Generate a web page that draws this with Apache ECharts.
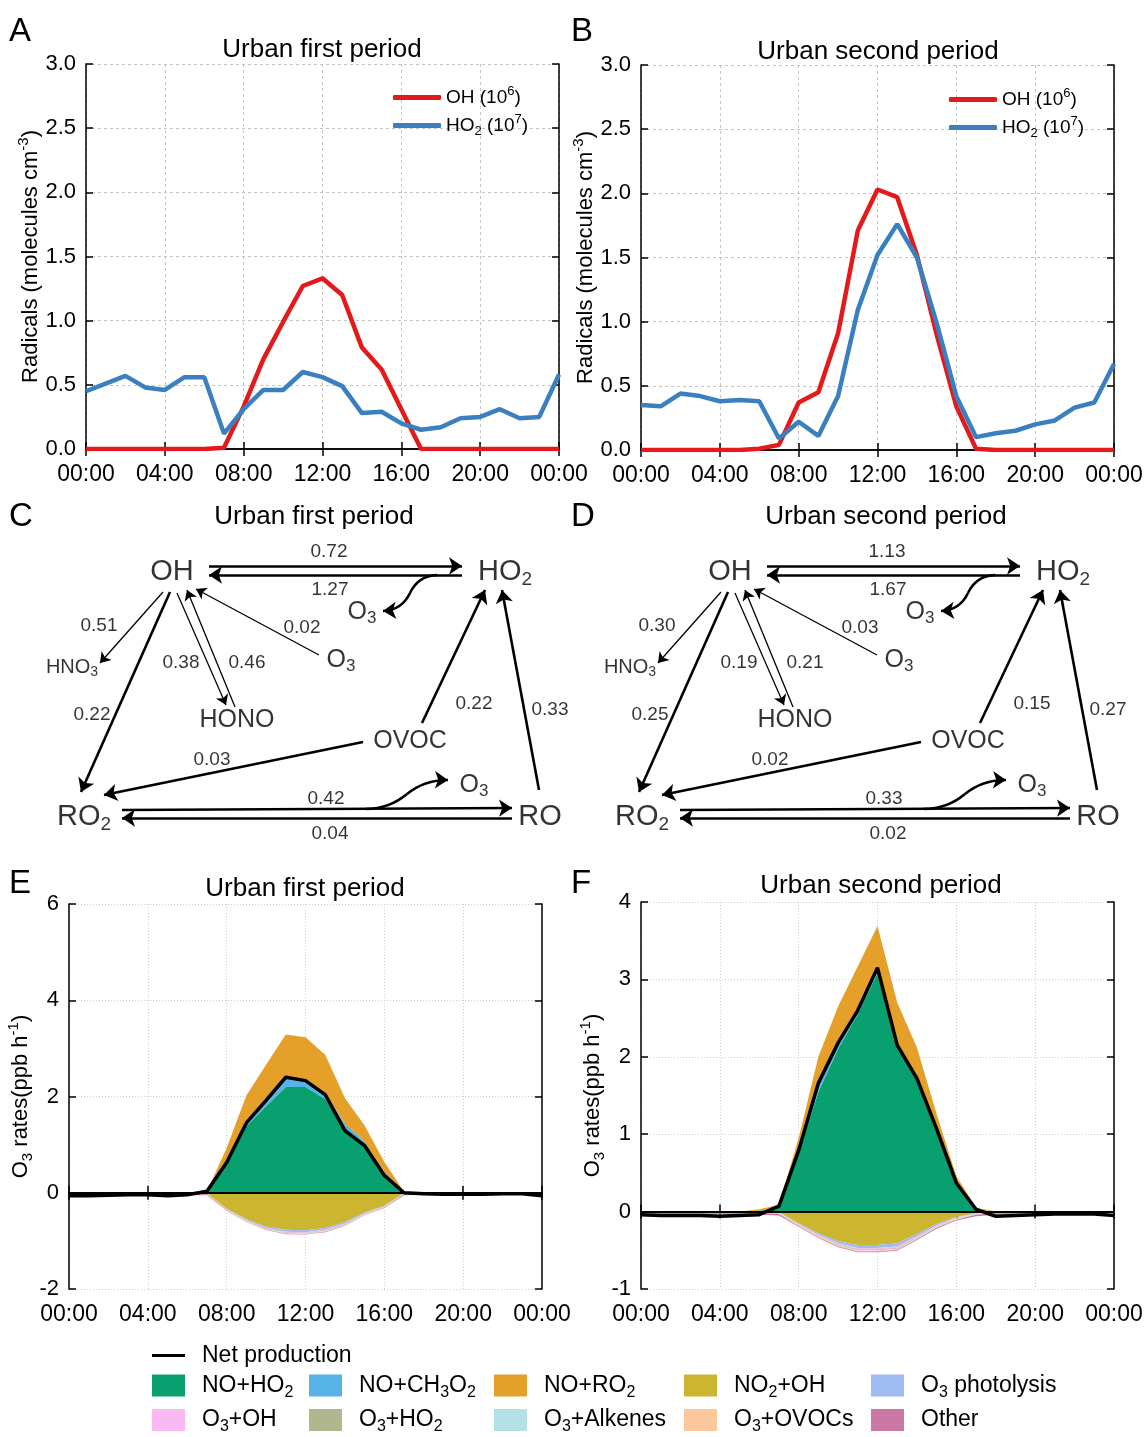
<!DOCTYPE html>
<html>
<head>
<meta charset="utf-8">
<script src="https://cdn.jsdelivr.net/npm/echarts@6/dist/echarts.min.js"></script>
<style>
html,body{margin:0;padding:0;background:#ffffff;}
#chart{width:1146px;height:1437px;}
</style>
</head>
<body>
<div id="chart"></div>
<script>
// ================= DATA =================
const hours = [0,1,2,3,4,5,6,7,8,9,10,11,12,13,14,15,16,17,18,19,20,21,22,23,24];
const xTickLabels = ['00:00','04:00','08:00','12:00','16:00','20:00','00:00'];

// Panels A / B : radicals (OH in 1e6, HO2 in 1e7 molecules cm-3)
const ohFirst   = [0,0,0,0,0,0,0,0.01,0.33,0.70,0.99,1.27,1.33,1.20,0.79,0.62,0.31,0,0,0,0,0,0,0,0];
const ho2First  = [0.45,0.51,0.57,0.48,0.46,0.56,0.56,0.12,0.31,0.46,0.46,0.60,0.56,0.49,0.28,0.29,0.20,0.15,0.17,0.24,0.25,0.31,0.24,0.25,0.58];
const ohSecond  = [0,0,0,0,0,0,0.01,0.04,0.37,0.45,0.91,1.71,2.03,1.97,1.52,0.90,0.34,0.01,0,0,0,0,0,0,0];
const ho2Second = [0.35,0.34,0.44,0.42,0.38,0.39,0.38,0.09,0.22,0.11,0.42,1.09,1.52,1.76,1.50,0.99,0.42,0.10,0.13,0.15,0.20,0.23,0.33,0.37,0.67];

// Panels C / D : radical cycling rates (ppb h-1)
const cycleSpecies = ['OH','HO_{2}','RO_{2}','RO','OVOC','HONO','HNO_{3}','O_{3}','O_{3}','O_{3}'];
const pathways     = ['OH→HO2','HO2→OH','OH→HNO3','OH→RO2','OH→HONO','HONO→OH','O3→OH','OVOC→HO2','RO→HO2','OVOC→RO2','RO2→RO','RO→RO2'];
const ratesFirst   = [0.72,1.27,0.51,0.22,0.38,0.46,0.02,0.22,0.33,0.03,0.42,0.04];
const ratesSecond  = [1.13,1.67,0.30,0.25,0.19,0.21,0.03,0.15,0.27,0.02,0.33,0.02];

// Panels E / F : O3 budget (ppb h-1)
const netFirst      = [-0.06,-0.06,-0.05,-0.04,-0.04,-0.06,-0.04,0.03,0.63,1.45,1.92,2.40,2.33,2.04,1.29,0.98,0.36,0.00,-0.02,-0.03,-0.03,-0.03,-0.02,-0.02,-0.06];
const noHo2First    = [0,0,0,0,0,0,0,0.01,0.58,1.38,1.80,2.20,2.20,1.95,1.32,0.98,0.40,0.01,0,0,0,0,0,0,0];
const noCh3o2First  = [0,0,0,0,0,0,0,0,0.03,0.07,0.12,0.18,0.16,0.13,0.12,0.08,0.03,0,0,0,0,0,0,0,0];
const noRo2First    = [0,0,0,0,0,0,0,0.02,0.32,0.57,0.74,0.91,0.87,0.79,0.53,0.34,0.21,0.01,0,0,0,0,0,0,0];
const no2OhFirst    = [0,0,0,0,0,0,0,-0.01,-0.33,-0.55,-0.70,-0.77,-0.78,-0.73,-0.61,-0.41,-0.27,-0.01,0,0,0,0,0,0,0];
const o3PhotFirst   = [0,0,0,0,0,0,0,0,-0.01,-0.02,-0.03,-0.04,-0.04,-0.04,-0.03,-0.02,-0.01,0,0,0,0,0,0,0,0];
const o3OhFirst     = [0,0,0,0,0,0,0,0,-0.005,-0.01,-0.01,-0.015,-0.015,-0.015,-0.01,-0.01,-0.005,0,0,0,0,0,0,0,0];
const o3Ho2First    = [0,0,0,0,0,0,0,0,-0.005,-0.005,-0.01,-0.01,-0.01,-0.01,-0.01,-0.005,-0.005,0,0,0,0,0,0,0,0];
const o3AlkFirst    = [-0.01,-0.01,-0.01,-0.01,-0.01,-0.01,-0.01,-0.01,-0.005,-0.005,-0.005,-0.005,-0.005,-0.005,-0.005,-0.005,-0.005,-0.01,-0.01,-0.01,-0.01,-0.01,-0.01,-0.01,-0.01];
const o3OvocFirst   = [-0.01,-0.01,-0.01,-0.01,-0.01,-0.01,-0.01,-0.01,-0.01,-0.01,-0.01,-0.01,-0.01,-0.01,-0.01,-0.01,-0.01,-0.01,-0.01,-0.01,-0.01,-0.01,-0.01,-0.01,-0.01];
const otherFirst    = [-0.03,-0.03,-0.03,-0.03,-0.03,-0.03,-0.03,-0.02,-0.01,-0.01,-0.01,-0.01,-0.01,-0.01,-0.01,-0.01,-0.01,-0.02,-0.02,-0.02,-0.02,-0.02,-0.02,-0.02,-0.03];

const netSecond     = [-0.04,-0.05,-0.05,-0.05,-0.06,-0.05,-0.04,0.07,0.79,1.66,2.18,2.60,3.15,2.15,1.72,1.07,0.37,0.03,-0.06,-0.05,-0.04,-0.03,-0.03,-0.03,-0.05];
const noHo2Second   = [0,0,0,0,0,0,0.01,0.05,0.75,1.55,2.10,2.55,3.08,2.12,1.70,1.03,0.36,0.02,0,0,0,0,0,0,0];
const noCh3o2Second = [0,0,0,0,0,0,0,0,0.03,0.06,0.06,0.05,0.05,0.04,0.03,0.02,0.01,0,0,0,0,0,0,0,0];
const noRo2Second   = [0,0,0,0,0,0,0.02,0.04,0.17,0.39,0.49,0.57,0.56,0.54,0.39,0.21,0.09,0.03,0,0,0,0,0,0,0];
const no2OhSecond   = [0,0,0,0,0,0,0,-0.01,-0.15,-0.28,-0.38,-0.43,-0.43,-0.41,-0.29,-0.16,-0.07,-0.02,0,0,0,0,0,0,0];
const o3PhotSecond  = [0,0,0,0,0,0,0,0,-0.01,-0.02,-0.03,-0.04,-0.04,-0.04,-0.03,-0.02,-0.01,0,0,0,0,0,0,0,0];
const o3OhSecond    = [0,0,0,0,0,0,0,0,-0.005,-0.01,-0.015,-0.02,-0.02,-0.02,-0.015,-0.01,-0.005,0,0,0,0,0,0,0,0];
const o3Ho2Second   = [0,0,0,0,0,0,0,0,-0.005,-0.005,-0.01,-0.01,-0.01,-0.01,-0.01,-0.005,-0.005,0,0,0,0,0,0,0,0];
const o3AlkSecond   = [-0.01,-0.01,-0.01,-0.01,-0.01,-0.01,-0.01,-0.01,-0.005,-0.005,-0.005,-0.005,-0.005,-0.005,-0.005,-0.005,-0.005,-0.01,-0.01,-0.01,-0.01,-0.01,-0.01,-0.01,-0.01];
const o3OvocSecond  = [-0.01,-0.01,-0.01,-0.01,-0.01,-0.01,-0.01,-0.01,-0.01,-0.01,-0.01,-0.01,-0.01,-0.01,-0.01,-0.01,-0.01,-0.01,-0.01,-0.01,-0.01,-0.01,-0.01,-0.01,-0.01];
const otherSecond   = [-0.02,-0.02,-0.02,-0.02,-0.02,-0.02,-0.02,-0.02,-0.01,-0.01,-0.01,-0.01,-0.01,-0.01,-0.01,-0.01,-0.01,-0.02,-0.02,-0.02,-0.02,-0.02,-0.02,-0.02,-0.02];

const budgetNames = ['NO+HO2','NO+CH3O2','NO+RO2','NO2+OH','O3 photolysis','O3+OH','O3+HO2','O3+Alkenes','O3+OVOCs','Other'];
const budgetLabels = ['NO+HO_{2}','NO+CH_{3}O_{2}','NO+RO_{2}','NO_{2}+OH','O_{3} photolysis','O_{3}+OH','O_{3}+HO_{2}','O_{3}+Alkenes','O_{3}+OVOCs','Other'];
const budgetFirst  = [noHo2First,noCh3o2First,noRo2First,no2OhFirst,o3PhotFirst,o3OhFirst,o3Ho2First,o3AlkFirst,o3OvocFirst,otherFirst];
const budgetSecond = [noHo2Second,noCh3o2Second,noRo2Second,no2OhSecond,o3PhotSecond,o3OhSecond,o3Ho2Second,o3AlkSecond,o3OvocSecond,otherSecond];

// ================= STYLE / LAYOUT =================
const FONT = 'Liberation Sans, Arial, Helvetica, sans-serif';
const budgetColors = ['#07a06e','#57b3e6','#e4a028','#ccb630','#9fbcf2','#fbb9f4','#b0b78e','#b3e1e8','#fcc79a','#cb77a4'];
const OH_COLOR = '#e3191c', HO2_COLOR = '#3a80c0';

// diagram layout (local pixel units inside a diagram box)
const nodeLayout = [
  {pos:[172,82], st:'n'}, {pos:[505,82], st:'n'}, {pos:[84,327], st:'n'}, {pos:[540,327], st:'n'},
  {pos:[410,251], st:'m'}, {pos:[237,230], st:'m'}, {pos:[72,177], st:'s'},
  {pos:[341,170], st:'m'}, {pos:[362,122], st:'m'}, {pos:[474,295], st:'m'}
];
const edgeLayout = [
  {from:[209,76],  to:[462,76],  thick:true,  label:[329,62]},
  {from:[462,85],  to:[209,85],  thick:true,  label:[330,100]},
  {from:[163,102], to:[100,173], thick:false, label:[99,136]},
  {from:[170,102], to:[81,302],  thick:true,  label:[92,225]},
  {from:[177,103], to:[226,215], thick:false, label:[181,173]},
  {from:[235,217], to:[187,100], thick:false, label:[247,173]},
  {from:[319,165], to:[196,99],  thick:false, label:[302,138]},
  {from:[422,233], to:[485,100], thick:true,  label:[474,214]},
  {from:[539,300], to:[502,100], thick:true,  label:[550,220]},
  {from:[363,252], to:[104,305], thick:true,  label:[212,270]},
  {from:[122,320], to:[512,318], thick:true,  label:[326,309]},
  {from:[512,328], to:[122,328], thick:true,  label:[330,344]}
];
const curveLayout = [
  {a:[437,85],  m:[410,103], b:[383,121], c:-0.3},
  {a:[366,319], m:[407,304], b:[448,290], c:-0.18}
];

// markup -> rich text
function mk(s, b) {
  return s.replace(/_\{([^}]*)\}|\^\{([^}]*)\}|([^_^]+)/g, function (m, sub, sup, t) {
    if (sub !== undefined) return '{' + b + 's|' + sub + '}';
    if (sup !== undefined) return '{' + b + 'p|' + sup + '}';
    return '{' + b + '|' + t + '}';
  });
}
function rs(b, size, subSize, shift, lh) {
  const o = {};
  o[b] = {fontSize: size, color: '#000', fontFamily: FONT};
  o[b + 's'] = {fontSize: subSize, color: '#000', fontFamily: FONT, padding: [shift * 2, 0, 0, 0]};
  o[b + 'p'] = {fontSize: subSize, color: '#000', fontFamily: FONT, padding: [0, 0, shift * 2, 0]};
  if (lh) { o[b].lineHeight = lh; }
  return o;
}

const grids = [
  {left:86,  top:64, width:473, height:385},  // A
  {left:641, top:65, width:473, height:385},  // B
  {left:0,   top:490, width:580, height:360}, // C
  {left:558, top:490, width:580, height:360}, // D
  {left:69,  top:904, width:473, height:385}, // E
  {left:641, top:902, width:473, height:387}  // F
].map(g => Object.assign({show:false, containLabel:false, outerBoundsMode:'none'}, g));

const xAxes = [], yAxes = [];
const axisLineStyle = {show:true, lineStyle:{color:'#000', width:1.5}};
const tickStyle = {show:true, inside:true, length:7, interval:3, lineStyle:{color:'#000', width:1.5}};
const yTickStyle = {show:true, inside:true, length:7, lineStyle:{color:'#000', width:1.5}};
const dashSplit = {show:true, lineStyle:{color:'#c4c4c4', width:1, type:[3,3]}};
const dotSplit = {show:true, lineStyle:{color:'#cfcfcf', width:1, type:[1,2]}};

function boxAxes(gi, ymin, ymax, yint, yfmt, yname, yGap, split) {
  const xb = xAxes.length;
  xAxes.push({gridIndex:gi, type:'category', data:hours, boundaryGap:false, position:'bottom',
    axisLine:axisLineStyle, axisTick:tickStyle,
    splitLine:Object.assign({interval:3}, split),
    axisLabel:{show:true, interval:3, color:'#000', fontSize:23, fontFamily:FONT, margin:14,
      formatter: v => xTickLabels[Math.round(Number(v) / 4)]}});
  xAxes.push({gridIndex:gi, type:'category', data:hours, boundaryGap:false, position:'top',
    axisLine:axisLineStyle, axisTick:tickStyle, splitLine:{show:false}, axisLabel:{show:false}});
  const yb = yAxes.length;
  yAxes.push({gridIndex:gi, type:'value', min:ymin, max:ymax, interval:yint, position:'left',
    axisLine:axisLineStyle, axisTick:yTickStyle, splitLine:split,
    axisLabel:{show:true, color:'#000', fontSize:22, fontFamily:FONT, margin:10, formatter:yfmt},
    name:yname, nameLocation:'middle', nameGap:yGap,
    nameTextStyle:{rich:Object.assign({}, rs('y', 22, 15, 7))}});
  yAxes.push({gridIndex:gi, type:'value', min:ymin, max:ymax, interval:yint, position:'right',
    axisLine:axisLineStyle, axisTick:yTickStyle, splitLine:{show:false}, axisLabel:{show:false}});
  return {x:xb, y:yb};
}

const radName = mk('Radicals (molecules cm^{-3})', 'y');
const o3Name = mk('O_{3} rates(ppb h^{-1})', 'y');
const axA = boxAxes(0, 0, 3, 0.5, v => v.toFixed(1), radName, 40, dashSplit);
const axB = boxAxes(1, 0, 3, 0.5, v => v.toFixed(1), radName, 38, dashSplit);
// diagram axes (hidden, 1 unit = 1 px)
const axC = {x:xAxes.length, y:yAxes.length};
xAxes.push({gridIndex:2, type:'value', min:0, max:580, show:false});
yAxes.push({gridIndex:2, type:'value', min:0, max:360, inverse:true, show:false});
const axD = {x:xAxes.length, y:yAxes.length};
xAxes.push({gridIndex:3, type:'value', min:0, max:580, show:false});
yAxes.push({gridIndex:3, type:'value', min:0, max:360, inverse:true, show:false});
const axE = boxAxes(4, -2, 6, 2, v => String(v), o3Name, 32, dotSplit);
const axF = boxAxes(5, -1, 4, 1, v => String(v), o3Name, 29, dotSplit);

const series = [];
function radicalSeries(ax, oh, ho2) {
  series.push({name:'OH', type:'line', xAxisIndex:ax.x, yAxisIndex:ax.y, data:oh, symbol:'none',
    lineStyle:{color:OH_COLOR, width:4.5}, itemStyle:{color:OH_COLOR}, color:OH_COLOR, z:3});
  series.push({name:'HO2', type:'line', xAxisIndex:ax.x, yAxisIndex:ax.y, data:ho2, symbol:'none',
    lineStyle:{color:HO2_COLOR, width:4.5}, itemStyle:{color:HO2_COLOR}, color:HO2_COLOR, z:4});
}
radicalSeries(axA, ohFirst, ho2First);
radicalSeries(axB, ohSecond, ho2Second);

function diagramSeries(ax, rates) {
  const common = {coordinateSystem:'cartesian2d', xAxisIndex:ax.x, yAxisIndex:ax.y, silent:true, animation:false};
  series.push(Object.assign({type:'lines', symbol:['none','arrow'], symbolSize:13, z:3,
    lineStyle:{color:'#000', width:2.6, opacity:1},
    data: edgeLayout.filter(e => e.thick).map(e => ({coords:[e.from, e.to]}))}, common));
  series.push(Object.assign({type:'lines', symbol:['none','arrow'], symbolSize:10, z:3,
    lineStyle:{color:'#000', width:1.3, opacity:1},
    data: edgeLayout.filter(e => !e.thick).map(e => ({coords:[e.from, e.to]}))}, common));
  series.push(Object.assign({type:'lines', symbol:['none','none'], z:3,
    lineStyle:{color:'#000', width:2.6, opacity:1},
    data: curveLayout.map(c => ({coords:[c.a, c.m], lineStyle:{curveness:c.c}}))}, common));
  series.push(Object.assign({type:'lines', symbol:['none','arrow'], symbolSize:13, z:3,
    lineStyle:{color:'#000', width:2.6, opacity:1},
    data: curveLayout.map(c => ({coords:[c.m, c.b], lineStyle:{curveness:-c.c}}))}, common));
  // species labels
  series.push({type:'scatter', xAxisIndex:ax.x, yAxisIndex:ax.y, silent:true, symbolSize:1, z:5,
    itemStyle:{color:'rgba(0,0,0,0)'},
    label:{show:true, position:'inside', formatter: p => p.data.txt,
      rich:Object.assign({}, rs('n', 29, 19, 8), rs('m', 25, 17, 6.5), rs('s', 20, 14, 5))},
    data: cycleSpecies.map((s, i) => ({value: nodeLayout[i].pos, txt: mk(s, nodeLayout[i].st)}))});
  // rate labels
  series.push({type:'scatter', xAxisIndex:ax.x, yAxisIndex:ax.y, silent:true, symbolSize:1, z:5,
    itemStyle:{color:'rgba(0,0,0,0)'},
    label:{show:true, position:'inside', formatter:'{b}', color:'#000', fontSize:19, fontFamily:FONT},
    data: rates.map((r, i) => ({name: r.toFixed(2), value: edgeLayout[i].label}))});
}
diagramSeries(axC, ratesFirst);
diagramSeries(axD, ratesSecond);

function budgetSeries(ax, comps, net, tag) {
  comps.forEach((arr, i) => {
    const c = budgetColors[i];
    series.push({name:budgetNames[i], type:'line', xAxisIndex:ax.x, yAxisIndex:ax.y,
      stack: (i < 3 ? 'pos' : 'neg') + tag,
      data:arr, symbol:'none', color:c, itemStyle:{color:c},
      lineStyle:{width:0, color:c}, areaStyle:{color:c, opacity:1}, z:2});
  });
  series.push({name:'Net production', type:'line', xAxisIndex:ax.x, yAxisIndex:ax.y,
    data:net, symbol:'none', color:'#000', itemStyle:{color:'#000'},
    lineStyle:{color:'#000', width:3.5}, z:6,
    markLine:{silent:true, symbol:['none','none'], label:{show:false},
      lineStyle:{color:'#000', width:2, type:'solid'}, data:[{yAxis:0}]}});
}
budgetSeries(axE, budgetFirst, netFirst, 'E');
budgetSeries(axF, budgetSecond, netSecond, 'F');

// ---------- titles ----------
const letter = (t, l, tp) => ({text:t, left:l, top:tp, padding:0,
  textStyle:{fontSize:33, fontWeight:'normal', color:'#000', fontFamily:FONT}});
const ptitle = (t, cx, tp) => ({text:t, left:cx, top:tp, padding:0, textAlign:'center',
  textStyle:{fontSize:26, fontWeight:'normal', color:'#000', fontFamily:FONT}});
const titles = [
  letter('A', 9, 15), letter('B', 571, 15), letter('C', 9, 500), letter('D', 571, 500),
  letter('E', 9, 867), letter('F', 571, 867),
  ptitle('Urban first period', 322, 37), ptitle('Urban second period', 878, 39),
  ptitle('Urban first period', 314, 504), ptitle('Urban second period', 886, 504),
  ptitle('Urban first period', 305, 876), ptitle('Urban second period', 881, 873)
];

// ---------- legends ----------
const radLegendText = {OH:'OH (10^{6})', HO2:'HO_{2} (10^{7})'};
const radLegend = (l, t) => ({data:['OH','HO2'], left:l, top:t, orient:'vertical', padding:0,
  icon:'roundRect', itemWidth:48, itemHeight:5, itemGap:6, selectedMode:false,
  formatter: n => mk(radLegendText[n], 'a'),
  textStyle:{rich:rs('a', 19, 13, 6, 20)}});
const bLegendText = {};
budgetNames.forEach((n, i) => { bLegendText[n] = budgetLabels[i]; });
bLegendText['Net production'] = 'Net production';
const bRich = Object.assign({g:{width:12}}, rs('t', 23, 16, 7, 26));
const bLegend = (names, l, t, extra) => Object.assign({data:names, left:l, top:t, orient:'vertical', padding:0,
  itemWidth:33, itemHeight:22, itemGap:8, icon:'rect', selectedMode:false,
  formatter: n => '{g| }' + mk(bLegendText[n], 't'),
  textStyle:{rich:bRich}}, extra || {});
const legends = [
  radLegend(393, 85), radLegend(949, 87),
  bLegend(['Net production'], 152, 1344, {itemHeight:3}),
  bLegend(['NO+HO2','O3+OH'], 152, 1374),
  bLegend(['NO+CH3O2','O3+HO2'], 309, 1374),
  bLegend(['NO+RO2','O3+Alkenes'], 494, 1374),
  bLegend(['NO2+OH','O3+OVOCs'], 684, 1374),
  bLegend(['O3 photolysis','Other'], 871, 1374)
];

const chart = echarts.init(document.getElementById('chart'), null, {renderer:'canvas'});
chart.setOption({
  backgroundColor:'#ffffff',
  animation:false,
  textStyle:{fontFamily:FONT, color:'#000'},
  title:titles,
  legend:legends,
  grid:grids,
  xAxis:xAxes,
  yAxis:yAxes,
  series:series
});
</script>
</body>
</html>
